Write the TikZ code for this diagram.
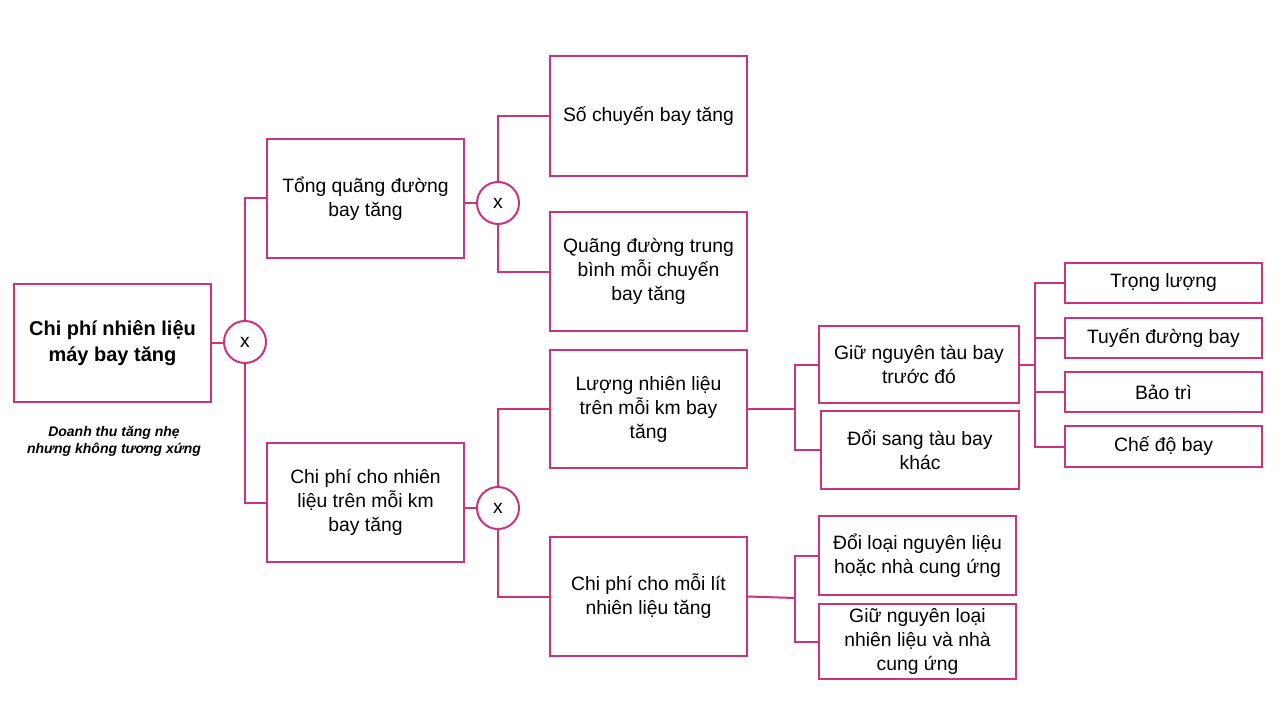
\documentclass[tikz,border=0pt]{standalone}
\usepackage{fontspec}
\setmainfont{Liberation Sans}
\definecolor{pk}{RGB}{204,51,122}
\begin{document}
\begin{tikzpicture}[x=0.75pt,y=-0.75pt,
  box/.style={draw=pk, line width=1.5pt, align=center, inner sep=0pt, font=\fontsize{14.5}{18}\selectfont},
  mulc/.style={draw=pk, line width=1.5pt, circle, minimum size=31.5pt, inner sep=0pt, font=\fontsize{14.5}{18}\selectfont},
  con/.style={draw=pk, line width=1.5pt}]
\useasboundingbox (0,0) rectangle (1280,720);
% boxes
\node[box, minimum width=147.75pt, minimum height=88.5pt, font=\fontsize{15}{19}\selectfont\bfseries] (A) at (112.5,343) {Chi phí nhiên liệu\\máy bay tăng};
\node[align=center, font=\fontsize{10.5}{12.75}\selectfont\bfseries\itshape] (note) at (114,441) {Doanh thu tăng nhẹ\\nhưng không tương xứng};
\node[box, minimum width=147.75pt, minimum height=89.25pt] (B) at (365.5,198.5) {Tổng quãng đường\\bay tăng};
\node[box, minimum width=147.75pt, minimum height=89.25pt] (C) at (365.5,502.5) {Chi phí cho nhiên\\liệu trên mỗi km\\bay tăng};
\node[box, minimum width=147.75pt, minimum height=90pt] (D) at (648.5,116) {Số chuyến bay tăng};
\node[box, minimum width=147.75pt, minimum height=89.25pt] (E) at (648.5,271.5) {Quãng đường trung\\bình mỗi chuyến\\bay tăng};
\node[box, minimum width=147.75pt, minimum height=88.5pt] (F) at (648.5,409) {Lượng nhiên liệu\\trên mỗi km bay\\tăng};
\node[box, minimum width=147.75pt, minimum height=89.25pt] (G) at (648.5,596.5) {Chi phí cho mỗi lít\\nhiên liệu tăng};
\node[box, minimum width=150pt, minimum height=57.75pt] (H) at (919,364.5) {Giữ nguyên tàu bay\\trước đó};
\node[box, minimum width=148.5pt, minimum height=58.5pt] (I) at (920,450) {Đổi sang tàu bay\\khác};
\node[box, minimum width=147.75pt, minimum height=30pt] (J) at (1163.5,283) {Trọng lượng};
\node[box, minimum width=147.75pt, minimum height=30pt] (K) at (1163.5,338) {Tuyến đường bay};
\node[box, minimum width=147.75pt, minimum height=30pt] (L) at (1163.5,392) {Bảo trì};
\node[box, minimum width=147.75pt, minimum height=30.75pt] (M) at (1163.5,446.5) {Chế độ bay};
\node[box, minimum width=147.75pt, minimum height=59.25pt] (N) at (917.5,555.5) {Đổi loại nguyên liệu\\hoặc nhà cung ứng};
\node[box, minimum width=147.75pt, minimum height=56.25pt] (O) at (917.5,641.5) {Giữ nguyên loại\\nhiên liệu và nhà\\cung ứng};
% multiplication circles
\node[mulc] (c1) at (245,342) {x};
\node[mulc] (c2) at (498,203) {x};
\node[mulc] (c3) at (498,508) {x};
% junction points
\coordinate (j1) at (795,409);
\coordinate (j2) at (1035,364.5);
\coordinate (j3) at (795,598);
% connectors
\draw[con] (A.east) -- (A.east -| c1.west);
\draw[con] (c1.north) |- (B.west);
\draw[con] (c1.south) |- (C.west);
\draw[con] (c2.west) -- (c2.west -| B.east);
\draw[con] (c2.north) |- (D.west);
\draw[con] (c2.south) |- (E.west);
\draw[con] (c3.west) -- (c3.west -| C.east);
\draw[con] (c3.north) |- (F.west);
\draw[con] (c3.south) |- (G.west);
\draw[con] (F.east) -- (j1);
\draw[con] (H.west) -| (j1) |- (I.west);
\draw[con] (H.east) -- (j2);
\draw[con] (J.west) -| (j2) |- (M.west);
\draw[con] (K.west) -- (K.west -| j2);
\draw[con] (L.west) -- (L.west -| j2);
\draw[con] (G.east) -- (j3);
\draw[con] (N.west) -| (j3) |- (O.west);
\end{tikzpicture}
\end{document}
